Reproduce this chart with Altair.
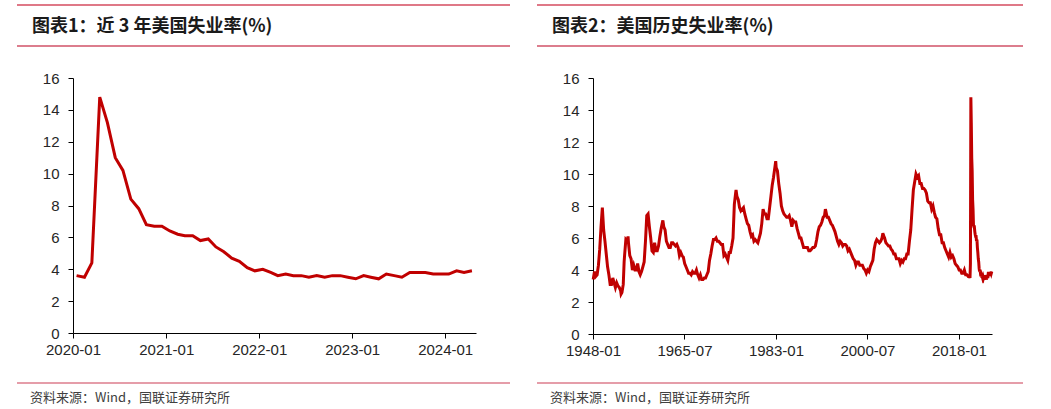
import altair as alt
import pandas as pd

# ---------------- data ----------------
# Chart 1: recent US unemployment rate, monthly 2020-01 .. 2024-04
recent_values = [
    3.6, 3.5, 4.4, 14.8, 13.2, 11.0, 10.2, 8.4, 7.8, 6.8, 6.7, 6.7,   # 2020
    6.4, 6.2, 6.1, 6.1, 5.8, 5.9, 5.4, 5.1, 4.7, 4.5, 4.1, 3.9,       # 2021
    4.0, 3.8, 3.6, 3.7, 3.6, 3.6, 3.5, 3.6, 3.5, 3.6, 3.6, 3.5,       # 2022
    3.4, 3.6, 3.5, 3.4, 3.7, 3.6, 3.5, 3.8, 3.8, 3.8, 3.7, 3.7,       # 2023
    3.7, 3.9, 3.8, 3.9,                                               # 2024
]
recent_start_year = 2020

# Chart 2: historical US unemployment rate, quarterly readings (Jan, Apr, Jul, Oct) 1948-2019
hist_years = list(range(1948, 2020))
hist_quarterly = [
    [3.4, 3.9, 3.6, 3.7], [4.3, 5.3, 6.7, 7.9], [6.5, 5.8, 5.0, 4.2], [3.7, 3.1, 3.1, 3.5],
    [3.2, 2.9, 3.2, 3.0], [2.9, 2.7, 2.6, 3.1], [4.9, 5.9, 5.8, 5.7], [4.9, 4.7, 4.0, 4.3],
    [4.0, 4.0, 4.4, 3.9], [3.7, 3.9, 4.2, 4.5], [5.8, 7.4, 7.5, 6.7], [6.0, 5.2, 5.1, 5.7],
    [5.2, 5.2, 5.5, 6.1], [6.6, 7.0, 6.7, 6.5], [5.8, 5.6, 5.4, 5.4], [5.7, 5.7, 5.6, 5.5],
    [5.6, 5.4, 4.9, 5.1], [4.9, 4.8, 4.4, 4.2], [4.0, 3.8, 3.8, 3.7], [3.9, 3.8, 3.8, 4.0],
    [3.7, 3.5, 3.7, 3.4], [3.4, 3.5, 3.5, 3.7], [3.9, 4.6, 5.0, 5.5], [5.9, 5.9, 6.0, 5.8],
    [5.8, 5.7, 5.6, 5.6], [4.9, 5.0, 4.8, 4.6], [5.1, 5.1, 5.5, 6.0], [8.1, 8.8, 8.6, 8.4],
    [7.9, 7.7, 7.8, 7.9], [7.5, 7.2, 6.9, 6.8], [6.4, 6.1, 6.2, 5.8], [5.9, 5.8, 5.7, 6.0],
    [6.3, 6.9, 7.8, 7.5], [7.5, 7.2, 7.2, 7.9], [8.6, 9.3, 9.8, 10.4], [10.4, 10.2, 9.4, 8.8],
    [8.0, 7.7, 7.5, 7.4], [7.3, 7.3, 7.4, 7.1], [6.7, 7.1, 7.0, 7.0], [6.6, 6.3, 6.0, 6.0],
    [5.7, 5.4, 5.4, 5.4], [5.4, 5.2, 5.2, 5.3], [5.4, 5.4, 5.5, 5.9], [6.4, 6.7, 6.8, 7.0],
    [7.3, 7.4, 7.7, 7.3], [7.3, 7.1, 6.9, 6.8], [6.6, 6.4, 6.1, 5.8], [5.6, 5.8, 5.7, 5.5],
    [5.6, 5.6, 5.5, 5.2], [5.3, 5.1, 4.9, 4.7], [4.6, 4.3, 4.5, 4.5], [4.3, 4.3, 4.3, 4.1],
    [4.0, 3.8, 4.0, 3.9], [4.2, 4.4, 4.6, 5.3], [5.7, 5.9, 5.8, 5.7], [5.8, 6.0, 6.2, 6.0],
    [5.7, 5.6, 5.5, 5.5], [5.3, 5.2, 5.0, 5.0], [4.7, 4.7, 4.7, 4.4], [4.6, 4.5, 4.7, 4.7],
    [5.0, 5.0, 5.8, 6.5], [7.8, 9.0, 9.5, 10.0], [9.8, 9.9, 9.4, 9.4], [9.1, 9.1, 9.0, 8.8],
    [8.3, 8.2, 8.2, 7.8], [8.0, 7.6, 7.3, 7.2], [6.6, 6.2, 6.2, 5.7], [5.7, 5.4, 5.2, 5.0],
    [4.8, 5.1, 4.8, 4.9], [4.7, 4.4, 4.3, 4.2], [4.0, 4.0, 3.8, 3.8], [4.0, 3.7, 3.7, 3.6],
]
# extra monthly readings at turning points
hist_extra_dates = ["1949-10", "1953-05", "1953-12", "1954-09", "1958-07", "1961-05",
                    "1975-05", "1982-12", "1992-06", "2003-06", "2009-10"]
hist_extra_values = [7.9, 2.5, 4.5, 6.1, 7.5, 7.1, 9.0, 10.8, 7.8, 6.3, 10.0]

title1 = "图表1：近 3 年美国失业率(%)"
title2 = "图表2：美国历史失业率(%)"
source_text = "资料来源：Wind，国联证券研究所"

recent_ticks = ["2020-01", "2021-01", "2022-01", "2023-01", "2024-01"]
hist_ticks = ["1948-01", "1965-07", "1983-01", "2000-07", "2018-01"]
y_ticks = [0, 2, 4, 6, 8, 10, 12, 14, 16]

# ---------------- tables ----------------
recent_dates = []
for i in range(len(recent_values)):
    y = recent_start_year + i // 12
    m = i % 12 + 1
    recent_dates.append(pd.Timestamp(year=y, month=m, day=15))
recent_df = pd.DataFrame({"date": recent_dates, "rate": recent_values})

rows = []
for yr, qv in zip(hist_years, hist_quarterly):
    for mo, v in zip([1, 4, 7, 10], qv):
        rows.append((pd.Timestamp(year=yr, month=mo, day=15), v))
for d, v in zip(hist_extra_dates, hist_extra_values):
    yy, mm = d.split("-")
    rows.append((pd.Timestamp(year=int(yy), month=int(mm), day=15), v))
for d, v in zip(recent_dates, recent_values):
    rows.append((d, v))
hist_df = pd.DataFrame(rows, columns=["date", "rate"]).drop_duplicates("date").sort_values("date")


def dt(s):
    yy, mm = s.split("-")
    return alt.DateTime(year=int(yy), month=int(mm), date=1)


deco = pd.DataFrame({"k": [0]})
LINE_RED = "#C00000"
TOP_RULE = "#D44B5F"
BOT_RULE = "#DC7D8D"


def panel(df, title, ticks, dom_start, dom_end, width, height, right_edge):
    line = alt.Chart(df).mark_line(color=LINE_RED, strokeWidth=3).encode(
        x=alt.X("date:T", title=None,
                scale=alt.Scale(domain=[dt(dom_start), dt(dom_end)]),
                axis=alt.Axis(values=[dt(t) for t in ticks], format="%Y-%m",
                              labelPadding=4, labelFlush=False)),
        y=alt.Y("rate:Q", title=None,
                scale=alt.Scale(domain=[0, 16], nice=False),
                axis=alt.Axis(values=y_ticks, labelPadding=9)),
    ).properties(width=width, height=height)

    top_rule = alt.Chart(deco).mark_rule(color=TOP_RULE, strokeWidth=1.5).encode(
        x=alt.value(-56), x2=alt.value(right_edge), y=alt.value(-73))
    mid_rule = alt.Chart(deco).mark_rule(color=BOT_RULE, strokeWidth=2).encode(
        x=alt.value(-56), x2=alt.value(right_edge), y=alt.value(-32))
    src_rule = alt.Chart(deco).mark_rule(color=BOT_RULE, strokeWidth=1.5).encode(
        x=alt.value(-56), x2=alt.value(right_edge), y=alt.value(305))
    title_txt = alt.Chart(deco).mark_text(
        align="left", baseline="middle", font="Noto Sans CJK SC", fontSize=18,
        fontWeight="bold", color="#1a1a1a").encode(
        x=alt.value(-41), y=alt.value(-51.5), text=alt.value(title))
    src_txt = alt.Chart(deco).mark_text(
        align="left", baseline="middle", font="Noto Sans CJK SC", fontSize=13,
        color="#404040").encode(
        x=alt.value(-43), y=alt.value(320), text=alt.value(source_text))
    return alt.layer(line, top_rule, mid_rule, src_rule, title_txt, src_txt)


left = panel(recent_df, title1, recent_ticks, "2020-01", "2024-05", 403, 255, 437)
right = panel(hist_df, title2, hist_ticks, "1948-01", "2024-05", 399, 256, 430)

chart = alt.hconcat(left, right, spacing=25).properties(
    padding={"left": 16, "top": 4, "right": 0, "bottom": 0}
).configure_view(stroke=None).configure_axis(
    grid=False, domainColor="#000000", tickColor="#000000", domainWidth=1,
    labelColor="#262626", labelFont="Liberation Sans", labelFontSize=15, tickSize=5,
)

chart.save("out.html", embed_options={"renderer": "svg", "actions": False})
